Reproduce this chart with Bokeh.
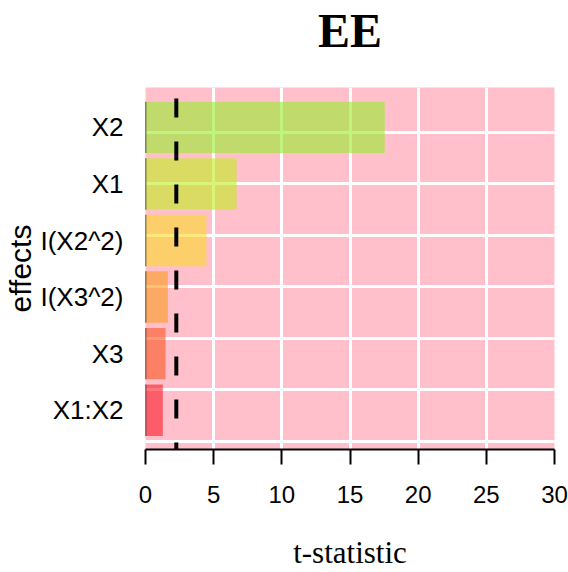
from bokeh.plotting import figure
from bokeh.models import FixedTicker, Range1d, Span, LinearAxis
from bokeh.embed import file_html
from bokeh.resources import INLINE

# ---- data ----
effects = ["X1:X2", "X3", "I(X3^2)", "I(X2^2)", "X1", "X2"]   # bottom -> top
t_values = [1.27, 1.47, 1.64, 4.47, 6.68, 17.55]
bar_colors = ["#fa1a28", "#fa5523", "#fa9b1e", "#fcd82a", "#c0ec1e", "#96ec2c"]
critical_t = 2.26
x_ticks = [0, 5, 10, 15, 20, 25, 30]
title_text = "EE"
x_label = "t-statistic"
y_label = "effects"

# barplot layout (space 0.1, width 1)
space, width = 0.1, 1.0
centers = [round(space + width / 2 + i * (space + width), 3) for i in range(len(effects))]

p = figure(width=568, height=572, output_backend="svg", toolbar_location=None,
           x_range=Range1d(0, 30), y_range=Range1d(-0.165, 6.876),
           min_border_left=145, min_border_right=14, min_border_top=86, min_border_bottom=115)

p.background_fill_color = "pink"
p.border_fill_color = "white"
p.outline_line_color = None

# grid
p.xgrid.ticker = FixedTicker(ticks=x_ticks[1:-1])
p.ygrid.ticker = FixedTicker(ticks=list(range(0, 7)))
for g in (p.xgrid, p.ygrid):
    g.grid_line_color = "white"
    g.grid_line_width = 3
    g.grid_line_alpha = 1.0

# bars
p.hbar(y=centers, left=0, right=t_values, height=width, fill_color=bar_colors,
       fill_alpha=0.6, line_color=None)
# left edge of bars
p.segment(x0=[0] * len(centers), x1=[0] * len(centers),
          y0=[c - width / 2 for c in centers], y1=[c + width / 2 for c in centers],
          line_color="#222222", line_width=1.5)

# critical value line
p.add_layout(Span(location=critical_t, dimension="height", line_color="black",
                  line_width=4, line_dash="19 24", line_dash_offset=32))

# title drawn as the label of an otherwise empty top axis
top = LinearAxis(ticker=FixedTicker(ticks=[]), axis_label=title_text)
top.axis_line_color = None
top.major_tick_line_color = None
top.minor_tick_line_color = None
top.major_tick_out = 0
top.major_tick_in = 0
top.major_label_standoff = 0
top.major_label_text_font_size = "0px"
top.axis_label_text_font = "Liberation Serif"
top.axis_label_text_font_style = "bold"
top.axis_label_text_font_size = "48px"
top.axis_label_text_color = "black"
top.axis_label_standoff = 31
p.add_layout(top, "above")

# x axis
xa = p.below[0]
xa.ticker = FixedTicker(ticks=x_ticks)
xa.axis_line_color = "black"
xa.axis_line_width = 2
xa.major_tick_line_color = "black"
xa.major_tick_line_width = 2
xa.major_tick_out = 15
xa.major_tick_in = 0
xa.minor_tick_line_color = None
xa.major_label_text_font = "Liberation Sans"
xa.major_label_text_font_size = "24px"
xa.major_label_text_color = "black"
xa.major_label_standoff = 21
xa.axis_label = x_label
xa.axis_label_text_font = "Liberation Serif"
xa.axis_label_text_font_style = "normal"
xa.axis_label_text_font_size = "31px"
xa.axis_label_text_color = "black"
xa.axis_label_standoff = 29

# y axis
ya = p.yaxis[0]
ya.ticker = FixedTicker(ticks=centers)
ya.major_label_overrides = {c: n for c, n in zip(centers, effects)}
ya.axis_line_color = None
ya.major_tick_line_color = None
ya.minor_tick_line_color = None
ya.major_tick_out = 0
ya.major_tick_in = 0
ya.major_label_text_font = "Liberation Sans"
ya.major_label_text_font_size = "26px"
ya.major_label_text_color = "black"
ya.major_label_standoff = 22
ya.axis_label = y_label
ya.axis_label_text_font = "Liberation Sans"
ya.axis_label_text_font_style = "normal"
ya.axis_label_text_font_size = "30px"
ya.axis_label_text_color = "black"
ya.axis_label_standoff = 0

open("out.html", "w").write(file_html(p, INLINE))
